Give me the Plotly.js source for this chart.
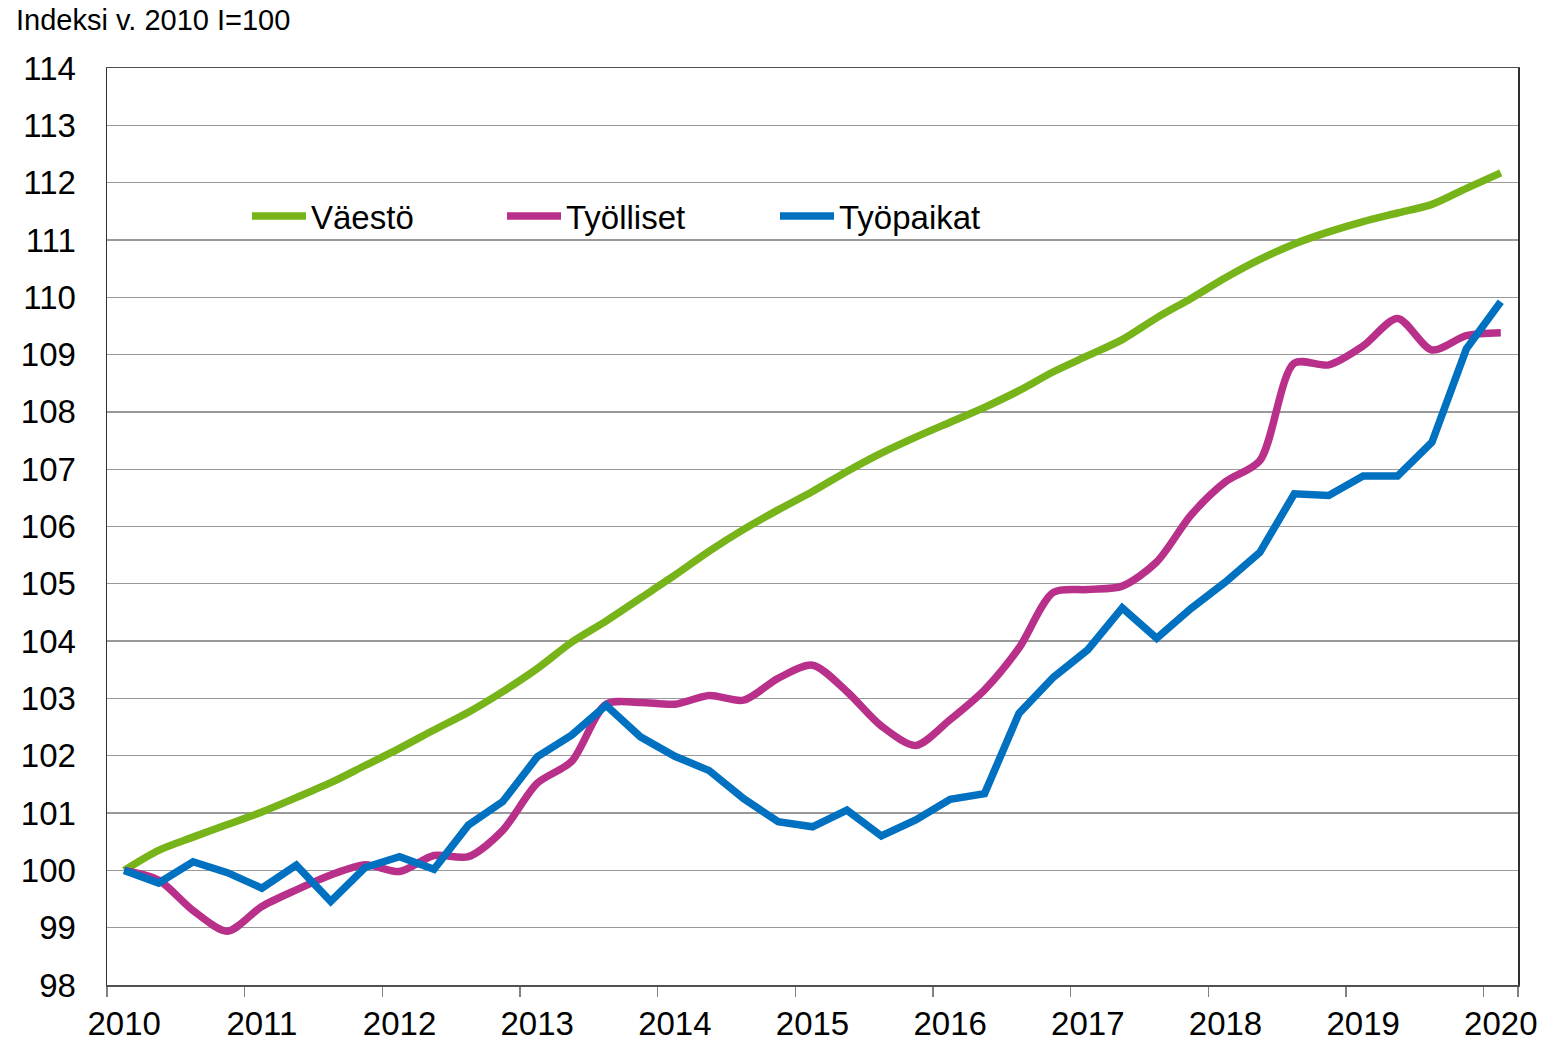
<!DOCTYPE html>
<html>
<head>
<meta charset="utf-8">
<script src="https://cdn.plot.ly/plotly-3.0.1.min.js"></script>
<style>html,body{margin:0;padding:0;background:#fff;}</style>
</head>
<body>
<div id="chart" style="width:1545px;height:1044px;"></div>
<script>
const quarters = [
  "2010 Q1","2010 Q2","2010 Q3","2010 Q4",
  "2011 Q1","2011 Q2","2011 Q3","2011 Q4",
  "2012 Q1","2012 Q2","2012 Q3","2012 Q4",
  "2013 Q1","2013 Q2","2013 Q3","2013 Q4",
  "2014 Q1","2014 Q2","2014 Q3","2014 Q4",
  "2015 Q1","2015 Q2","2015 Q3","2015 Q4",
  "2016 Q1","2016 Q2","2016 Q3","2016 Q4",
  "2017 Q1","2017 Q2","2017 Q3","2017 Q4",
  "2018 Q1","2018 Q2","2018 Q3","2018 Q4",
  "2019 Q1","2019 Q2","2019 Q3","2019 Q4",
  "2020 Q1"
];
const tickQuarters = ["2010 Q1","2011 Q1","2012 Q1","2013 Q1","2014 Q1","2015 Q1","2016 Q1","2017 Q1","2018 Q1","2019 Q1","2020 Q1"];
const tickLabels = ["2010","2011","2012","2013","2014","2015","2016","2017","2018","2019","2020"];

const vaesto = [
  100.00,100.35,100.58,100.80,101.02,101.27,101.53,101.83,102.13,102.45,
  102.76,103.12,103.52,103.98,104.35,104.75,105.15,105.57,105.95,106.29,
  106.61,106.96,107.28,107.56,107.82,108.08,108.37,108.70,108.98,109.26,
  109.64,109.98,110.34,110.66,110.93,111.14,111.32,111.47,111.62,111.90,
  112.17
];
const tyolliset = [
  100.00,99.83,99.30,98.94,99.37,99.66,99.92,100.10,99.98,100.26,
  100.24,100.70,101.52,101.90,102.90,102.93,102.90,103.05,102.97,103.35,
  103.58,103.12,102.52,102.18,102.63,103.15,103.88,104.85,104.90,104.96,
  105.38,106.20,106.78,107.15,108.85,108.82,109.15,109.63,109.08,109.33,
  109.38
];
const tyopaikat = [
  100.00,99.78,100.15,99.96,99.69,100.09,99.46,100.05,100.24,100.02,
  100.79,101.20,101.98,102.36,102.88,102.33,101.99,101.74,101.25,100.85,
  100.76,101.05,100.60,100.88,101.24,101.34,102.74,103.37,103.85,104.58,
  104.05,104.57,105.03,105.55,106.57,106.54,106.88,106.88,107.47,109.10,
  109.92
];
const seriesNames = ["Väestö","Työlliset","Työpaikat"];
const seriesColors = ["#77B41A","#B8308A","#0071C1"];

const traces = [
  {x: quarters, y: vaesto, name: seriesNames[0], type: "scatter", mode: "lines",
   line: {color: seriesColors[0], width: 7.5, shape: "spline", smoothing: 0.8}, legend: "legend"},
  {x: quarters, y: tyolliset, name: seriesNames[1], type: "scatter", mode: "lines",
   line: {color: seriesColors[1], width: 7.5, shape: "spline", smoothing: 0.8}, legend: "legend2"},
  {x: quarters, y: tyopaikat, name: seriesNames[2], type: "scatter", mode: "lines",
   line: {color: seriesColors[2], width: 7.5, shape: "linear"}, legend: "legend3"}
];

const fontFam = "Liberation Sans, Arial, sans-serif";
function leg(xpx) {
  return {orientation: "h", x: (xpx - 107) / 1411, xanchor: "left", y: (985 - 216) / 917, yanchor: "middle",
    font: {family: fontFam, size: 33, color: "#000"}, bgcolor: "rgba(0,0,0,0)", itemwidth: 54,
    borderwidth: 0};
}

const layout = {
  width: 1545, height: 1044,
  margin: {l: 107, r: 27, t: 68, b: 59, pad: 0},
  paper_bgcolor: "#fff", plot_bgcolor: "#fff",
  font: {family: fontFam, color: "#000"},
  showlegend: true,
  title: {text: "Indeksi v. 2010 I=100", font: {family: fontFam, size: 29, color: "#000"},
    x: 16 / 1545, xref: "container", xanchor: "left", y: 1 - 20 / 1044, yref: "container", yanchor: "middle"},
  xaxis: {type: "category", range: [-0.5, 40.5], tickmode: "array", tickvals: tickQuarters, ticktext: tickLabels,
    tickson: "boundaries", ticks: "outside", ticklen: 10, tickwidth: 1.5, tickcolor: "#808080", tickangle: 0,
    showgrid: false, showline: true, linecolor: "#505050", linewidth: 1.5, mirror: true,
    ticklabelstandoff: 9,
    tickfont: {family: fontFam, size: 33, color: "#000"}, fixedrange: true},
  yaxis: {range: [98, 114], tickmode: "linear", tick0: 98, dtick: 1, ticks: "",
    showgrid: true, gridcolor: "#999999", gridwidth: 1.3, zeroline: false,
    showline: true, linecolor: "#303030", linewidth: 1.5, mirror: true,
    tickfont: {family: fontFam, size: 33, color: "#000"}, ticklabelstandoff: 23, fixedrange: true},
  legend: leg(247),
  legend2: leg(502),
  legend3: leg(775)
};

Plotly.newPlot("chart", traces, layout, {displayModeBar: false, staticPlot: true});
</script>
</body>
</html>
